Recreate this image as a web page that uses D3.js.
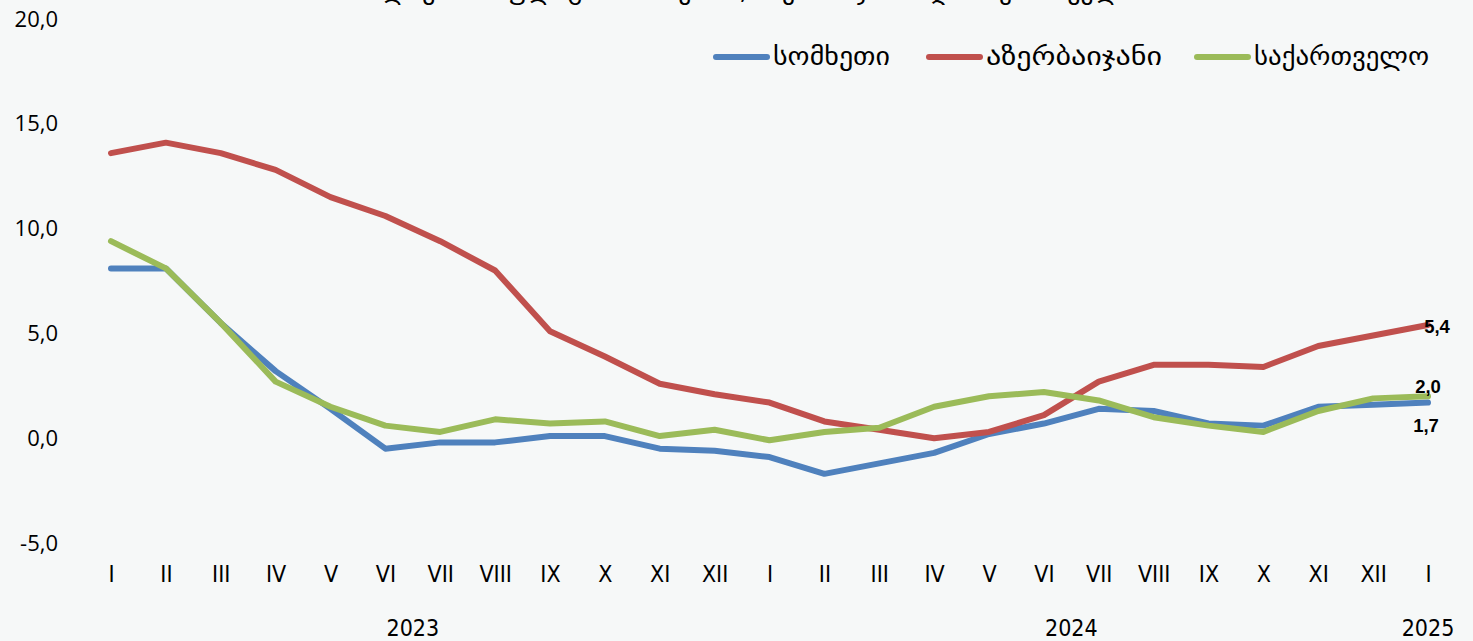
<!DOCTYPE html>
<html>
<head>
<meta charset="utf-8">
<script src="https://cdn.jsdelivr.net/npm/d3@7"></script>
<style>
  body { margin: 0; background: #f6f8f8; }
  #chart svg { display: block; }
</style>
</head>
<body>
<div id="chart"></div>
<script>
const months = ["I","II","III","IV","V","VI","VII","VIII","IX","X","XI","XII",
                "I","II","III","IV","V","VI","VII","VIII","IX","X","XI","XII","I"];
const years = [
    { label: "2023", from: 0, to: 11 },
    { label: "2024", from: 12, to: 23 },
    { label: "2025", from: 24, to: 24 }
];
const armenia = [8.1, 8.1, 5.5, 3.2, 1.4, -0.5, -0.2, -0.2, 0.1, 0.1, -0.5, -0.6,
                 -0.9, -1.7, -1.2, -0.7, 0.2, 0.7, 1.4, 1.3, 0.7, 0.6, 1.5, 1.6, 1.7];
const azerbaijan = [13.6, 14.1, 13.6, 12.8, 11.5, 10.6, 9.4, 8.0, 5.1, 3.9, 2.6, 2.1,
                    1.7, 0.8, 0.4, 0.0, 0.3, 1.1, 2.7, 3.5, 3.5, 3.4, 4.4, 4.9, 5.4];
const georgia = [9.4, 8.1, 5.5, 2.7, 1.5, 0.6, 0.3, 0.9, 0.7, 0.8, 0.1, 0.4,
                 -0.1, 0.3, 0.5, 1.5, 2.0, 2.2, 1.8, 1.0, 0.6, 0.3, 1.3, 1.9, 2.0];
const seriesNames = ["სომხეთი", "აზერბაიჯანი", "საქართველო"];
const yTicks = [-5, 0, 5, 10, 15, 20];
const titleText = "წლიური ინფლაცია სომხეთში, აზერბაიჯანსა და საქართველოში";

const width = 1473;
const height = 641;
const colors = ["#4f81bd", "#c0504d", "#9bbb59"];
const series = [armenia, azerbaijan, georgia];

const svg = d3.select("#chart")
    .append("svg")
    .attr("width", width)
    .attr("height", height)
    .style("background", "#f6f8f8");

const x = d3.scalePoint()
    .domain(d3.range(months.length))
    .range([111, 1428]);

const y = d3.scaleLinear()
    .domain([-5, 20])
    .range([543, 19]);

// comma decimals, plain hyphen for minus
const fmt = v => d3.format(".1f")(v).replace(".", ",").replace("\u2212", "-");

// title, mostly cut off at the top like in the source
svg.append("text")
    .attr("x", 768)
    .attr("y", -1)
    .attr("text-anchor", "middle")
    .style("font-family", "DejaVu Sans, sans-serif")
    .style("font-size", "26px")
    .attr("fill", "#000")
    .text(titleText);

// y axis labels
const yAxis = svg.append("g")
    .attr("transform", "translate(58,0)")
    .call(d3.axisLeft(y).tickValues(yTicks).tickSize(0).tickPadding(0).tickFormat(fmt));
yAxis.select(".domain").remove();
yAxis.selectAll("text")
    .style("font-family", "Open Sans, sans-serif")
    .style("font-size", "22px")
    .attr("fill", "#000");

// x axis month labels
const xAxis = svg.append("g")
    .attr("transform", "translate(0,566)")
    .call(d3.axisBottom(x).tickSize(0).tickPadding(0).tickFormat(i => months[i]));
xAxis.select(".domain").remove();
xAxis.selectAll("text")
    .attr("dy", "0.71em")
    .style("font-family", "Liberation Sans Narrow, DejaVu Sans Condensed, sans-serif")
    .style("font-stretch", "condensed")
    .style("font-size", "23px")
    .attr("fill", "#000");

// year labels
svg.selectAll(".year")
    .data(years)
    .enter().append("text")
    .attr("class", "year")
    .attr("x", d => (x(d.from) + x(d.to)) / 2)
    .attr("y", 636)
    .attr("text-anchor", "middle")
    .style("font-family", "Liberation Sans Narrow, DejaVu Sans Condensed, sans-serif")
    .style("font-stretch", "condensed")
    .style("font-size", "23px")
    .attr("fill", "#000")
    .text(d => d.label);

// lines
const line = d3.line()
    .x((d, i) => x(i))
    .y(d => y(d));

svg.selectAll(".series")
    .data(series)
    .enter().append("path")
    .attr("class", "series")
    .attr("d", d => line(d))
    .attr("fill", "none")
    .attr("stroke", (d, i) => colors[i])
    .attr("stroke-width", 6)
    .attr("stroke-linejoin", "round")
    .attr("stroke-linecap", "round");

// end labels
const last = months.length - 1;
const endLabels = [
    { v: azerbaijan[last], dx: 9, dy: 8 },
    { v: georgia[last], dx: 0, dy: -3 },
    { v: armenia[last], dx: -2, dy: 29 }
];
svg.selectAll(".end-label")
    .data(endLabels)
    .enter().append("text")
    .attr("class", "end-label")
    .attr("x", d => x(last) + d.dx)
    .attr("y", d => y(d.v) + d.dy)
    .attr("text-anchor", "middle")
    .style("font-family", "Liberation Sans, sans-serif")
    .style("font-weight", "bold")
    .style("font-size", "18.5px")
    .attr("fill", "#000")
    .text(d => fmt(d.v));

// legend
const legendX = [716, 929, 1197];
const legendW = [117, 176, 175];
const legend = svg.selectAll(".legend")
    .data(seriesNames)
    .enter().append("g")
    .attr("class", "legend")
    .attr("transform", (d, i) => `translate(${legendX[i]}, 57)`);

legend.append("line")
    .attr("x1", 0)
    .attr("x2", 51)
    .attr("stroke", (d, i) => colors[i])
    .attr("stroke-width", 6)
    .attr("stroke-linecap", "round");

legend.append("text")
    .attr("x", 57)
    .attr("y", 8)
    .attr("textLength", (d, i) => legendW[i])
    .attr("lengthAdjust", "spacingAndGlyphs")
    .style("font-family", "DejaVu Sans, sans-serif")
    .style("font-size", "25px")
    .attr("fill", "#000")
    .text(d => d);
</script>
</body>
</html>
